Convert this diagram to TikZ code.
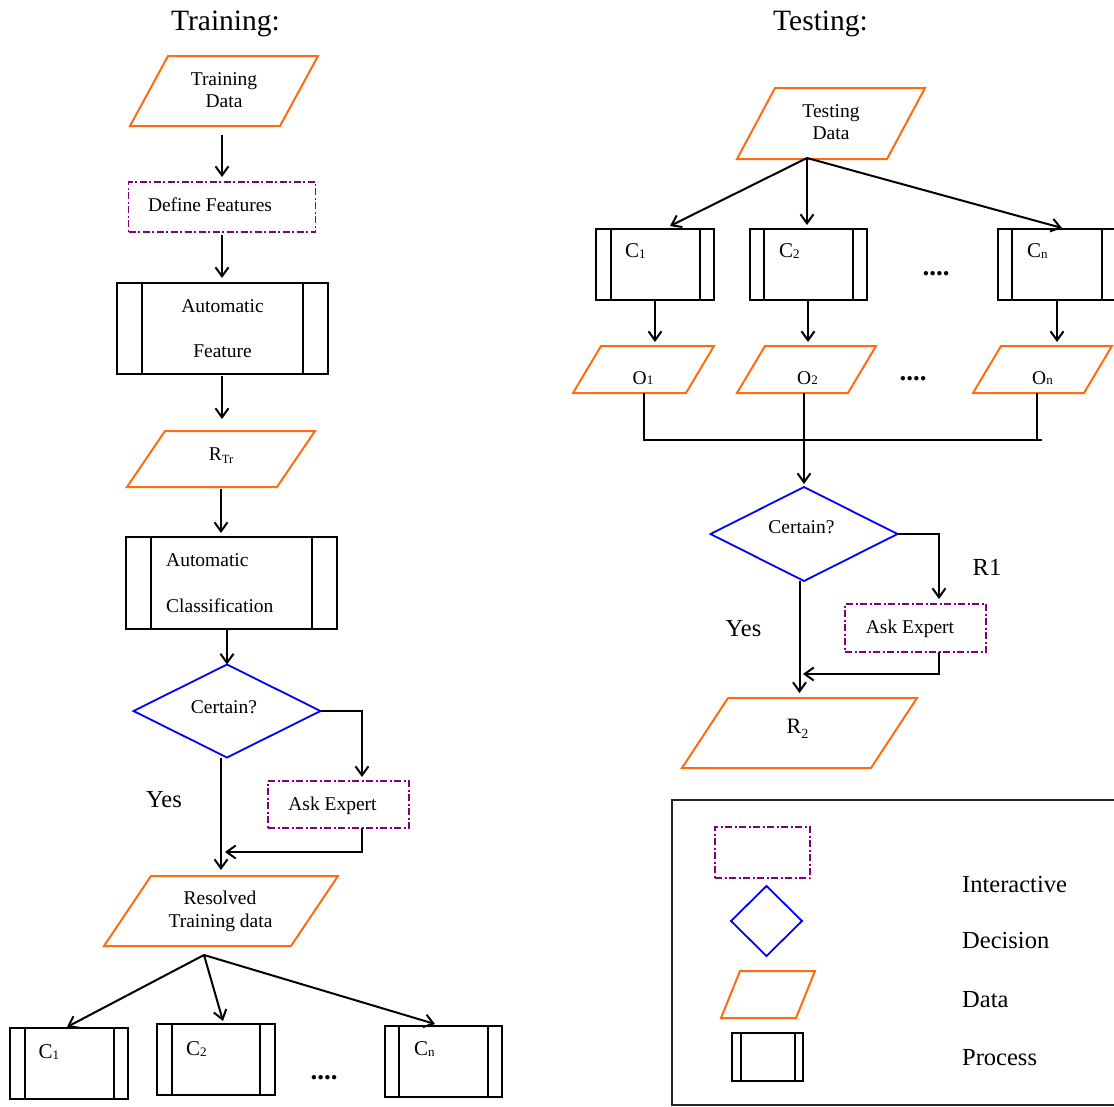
\documentclass[tikz,border=0pt]{standalone}
\usepackage{fontspec}
\setmainfont{Liberation Serif}
\usetikzlibrary{arrows.meta,shapes.geometric,calc}

\definecolor{dataor}{RGB}{255,108,16}
\definecolor{interp}{RGB}{128,0,128}
\definecolor{decb}{RGB}{0,0,255}

\newcommand\subs[3]{\raisebox{-#1pt}{\fontsize{#2}{#2}\selectfont #3}}

\newcommand\procbox[6]{%
  \node[procnode,minimum width=#4pt,minimum height=#5pt] (#1) at (#2,#3) {};
  \draw[procline] ([xshift=#6pt]#1.north west) -- ([xshift=#6pt]#1.south west)
    ([xshift=-#6pt]#1.north east) -- ([xshift=-#6pt]#1.south east);}

\newcommand\databox[6]{%
  \node[shapebox,minimum width=#4pt,minimum height=#5pt] (#1) at (#2,#3) {};
  \draw[dataline] (#1.south west) -- ([xshift=#6pt]#1.north west) -- (#1.north east)
    -- ([xshift=-#6pt]#1.south east) -- cycle;}

\begin{document}
\begin{tikzpicture}[x=1pt,y=-1pt,
  shapebox/.style={rectangle, inner sep=0pt, outer sep=0pt, draw=none},
  procnode/.style={shapebox, draw=black, line width=2pt},
  procline/.style={line width=2pt},
  dataline/.style={draw=dataor, line width=2pt, line join=miter},
  interbox/.style={shapebox, draw=interp, line width=1.6pt,
    dash pattern=on 7pt off 2.5pt on 2pt off 2.5pt},
  decnode/.style={diamond, draw=decb, line width=1.8pt, inner sep=0pt, outer sep=0pt},
  arr/.style={line width=2pt, -{Straight Barb[length=9pt,width=13pt]}},
  conn/.style={line width=2pt},
  txt/.style={font=\fontsize{19.5}{23}\selectfont, inner sep=0pt, anchor=base},
  txtw/.style={txt, anchor=base west},
  big/.style={font=\fontsize{24.5}{28}\selectfont, inner sep=0pt, anchor=base},
  bigw/.style={big, anchor=base west},
  ttl/.style={font=\fontsize{29.5}{33}\selectfont, inner sep=0pt, anchor=base},
  clab/.style={font=\fontsize{21}{24}\selectfont, inner sep=0pt, anchor=base west},
  dotst/.style={font=\fontsize{27}{30}\bfseries\selectfont, inner sep=0pt, anchor=base}
]
\useasboundingbox (0,0) rectangle (1114,1106);
\clip (0,0) rectangle (1114,1106);

% titles
\node[ttl] (ttrain) at (225.5,30) {Training:};
\node[ttl] (ttest) at (820.5,30) {Testing:};

% ---------------- Training ----------------
\databox{td}{224}{91}{188}{70}{38}
\node[txt] (tdt1) at (224,85) {Training};
\node[txt] (tdt2) at (224,107) {Data};

\node[interbox, minimum width=187pt, minimum height=50pt] (df) at (222,207) {};
\node[txt] (dft) at (210,211) {Define Features};

\procbox{af}{222}{328.5}{211}{91}{25}
\node[txt] (aft1) at (222.5,312) {Automatic};
\node[txt] (aft2) at (222.5,357) {Feature};

\databox{rtr}{221}{459}{188}{56}{38}
\node[txt] (rtrt) at (221,460) {R\subs{3}{12.5}{Tr}};

\procbox{ac}{231.5}{583}{211}{92}{25}
\node[txtw] (act1) at (166,566) {Automatic};
\node[txtw] (act2) at (166,612) {Classification};

\node[decnode, minimum width=187pt, minimum height=93pt] (dec) at (227,711) {};
\node[txt] (dect) at (224,713) {Certain?};

\node[interbox, minimum width=141pt, minimum height=47pt] (ask) at (338.5,804.5) {};
\node[txt] (askt) at (332.5,810) {Ask Expert};
\node[big] (yes1) at (164,807) {Yes};

\databox{res}{221}{911}{234}{70}{47}
\node[txt] (rest1) at (220,904) {Resolved};
\node[txt] (rest2) at (220.5,927) {Training data};

\procbox{c1}{69}{1063.5}{118}{71}{14.5}
\procbox{c2}{216}{1059.5}{118}{71}{15}
\procbox{cn}{443.5}{1061.5}{117}{71}{14}
\node[clab] (c1t) at (38.5,1058) {C\subs{1.5}{13}{1}};
\node[clab] (c2t) at (186,1055) {C\subs{1.5}{13}{2}};
\node[clab] (cnt) at (414,1055) {C\subs{1.5}{13}{n}};
\node[dotst] (dotsl) at (324,1079) {....};

% connectors (training)
\draw[arr, shorten <=9pt, shorten >=5pt] (df.north |- td.south) -- (df.north);
\draw[arr, shorten <=3pt, shorten >=5pt] (df.south) -- (df.south |- af.north);
\draw[arr, shorten <=2pt, shorten >=12pt] (af.south) -- (af.south |- rtr.north);
\draw[arr, shorten <=2pt, shorten >=4pt] (rtr.south) -- (rtr.south |- ac.north);
\draw[arr] (dec.north |- ac.south) -- (dec.north);
\draw[arr, shorten >=4pt] (dec.east) -| ([xshift=23.5pt]ask.north);
\draw[arr, shorten >=6pt] (res.north |- dec.south) -- (res.north);
\coordinate (jl) at (225,852);
\draw[arr] ([xshift=23.5pt]ask.south) |- (jl);
\coordinate (fl) at (204,955);
\draw[arr] (fl) -- ([xshift=-2pt,yshift=1pt]c1.north);
\draw[arr] (fl) -- ([xshift=7pt,yshift=3pt]c2.north);
\draw[arr] (fl) -- ([xshift=-8.5pt,yshift=2pt]cn.north);

% ---------------- Testing ----------------
\databox{tsd}{831}{123.5}{188}{71}{38}
\node[txt] (tsdt1) at (831,117) {Testing};
\node[txt] (tsdt2) at (831,139) {Data};

\procbox{rc1}{655}{264.5}{118}{71}{14.5}
\procbox{rc2}{808}{264.5}{117}{71}{14}
\procbox{rcn}{1057}{264.5}{118}{71}{14}
\node[clab] (rc1t) at (625,257) {C\subs{1.5}{13}{1}};
\node[clab] (rc2t) at (779,257) {C\subs{1.5}{13}{2}};
\node[clab] (rcnt) at (1027,257) {C\subs{1.5}{13}{n}};
\node[dotst] (dotsr1) at (936,275) {....};

\coordinate (fr) at (807,158);
\draw[arr] (fr) -- ([xshift=15pt,yshift=3pt]rc1.north);
\draw[arr] (fr) -- ([xshift=-1pt,yshift=4pt]rc2.north);
\draw[arr] (fr) -- ([xshift=5pt,yshift=1pt]rcn.north);

\databox{o1}{643.5}{369.5}{141}{47}{28}
\databox{o2}{806.5}{369.5}{139}{47}{28}
\databox{on}{1042.5}{369.5}{139}{47}{28}
\node[txt] (o1t) at (643,384) {O\subs{0}{13}{1}};
\node[txt] (o2t) at (807.5,384) {O\subs{0}{13}{2}};
\node[txt] (ont) at (1042.5,384) {O\subs{0}{13}{n}};
\node[dotst] (dotsr2) at (913,380) {....};

\draw[arr, shorten >=4pt] (rc1.south) -- (rc1.south |- o1.north);
\draw[arr, shorten >=4pt] (rc2.south) -- (rc2.south |- o2.north);
\draw[arr, shorten >=4pt] (rcn.south) -- (rcn.south |- on.north);

\coordinate (mend) at (1042,440);
\draw[conn] (o1.south) |- (mend);
\draw[conn] ([xshift=-5.5pt]on.south) -- ([xshift=-5.5pt]on.south |- mend);

\node[decnode, minimum width=187pt, minimum height=94pt] (rdec) at (804,534) {};
\node[txt] (rdect) at (801.5,533) {Certain?};
\draw[arr, shorten >=3pt] (rdec.north |- o2.south) -- (rdec.north);

\node[interbox, minimum width=141pt, minimum height=48pt] (rask) at (915.5,628) {};
\node[txt] (raskt) at (910,633) {Ask Expert};
\draw[arr, shorten >=5pt] (rdec.east) -| ([xshift=23.5pt]rask.north);
\coordinate (jr) at (803,674);
\draw[arr] ([xshift=23.5pt]rask.south) |- (jr);

\databox{r2}{799.5}{733}{235}{70}{46}
\node[font=\fontsize{22}{24}\selectfont, inner sep=0pt, anchor=base] (r2t) at (797.5,733) {R\subs{5}{14}{2}};
\draw[arr, shorten >=5pt] (r2.north |- rdec.south) -- (r2.north);

\node[big] (yes2) at (743.5,636) {Yes};
\node[big] (r1t) at (987,575) {R1};

% ---------------- Legend ----------------
\node[shapebox, draw=black!85, line width=1.6pt, minimum width=448pt, minimum height=305pt, anchor=north west] (leg) at (672,800) {};
\node[interbox, minimum width=95pt, minimum height=51pt] (lg1) at (762.5,852.5) {};
\node[decnode, minimum width=71pt, minimum height=70pt] (lg2) at (766.5,921) {};
\databox{lg3}{768}{994.5}{94}{47}{19}
\procbox{lg4}{767.5}{1057}{71}{48}{8.5}
\node[bigw] (lgt1) at (962,892) {Interactive};
\node[bigw] (lgt2) at (962,948) {Decision};
\node[bigw] (lgt3) at (962,1007) {Data};
\node[bigw] (lgt4) at (962,1065) {Process};
\end{tikzpicture}
\end{document}
